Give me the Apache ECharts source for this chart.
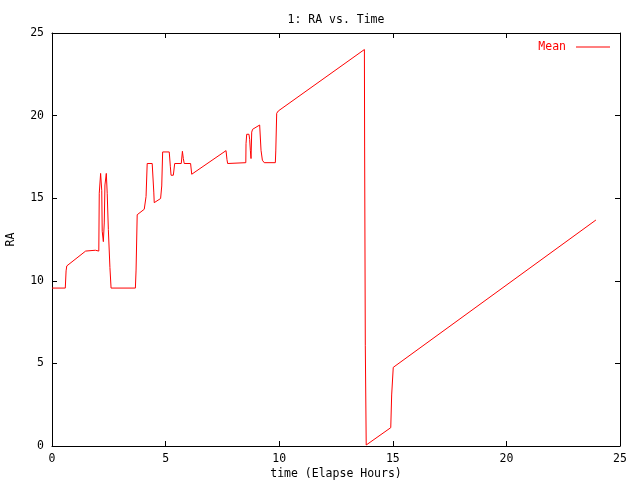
<!DOCTYPE html>
<html>
<head>
<meta charset="utf-8">
<script src="https://cdn.jsdelivr.net/npm/echarts@6/dist/echarts.min.js"></script>
<style>html,body{margin:0;padding:0;background:#fff;}#c{width:640px;height:480px;}</style>
</head>
<body>
<div id="c"></div>
<script>
var titleText = "1: RA vs. Time";
var xName = "time (Elapse Hours)";
var yName = "RA";
var seriesName = "Mean";
var timeHours = [0, 0.585, 0.62, 0.65, 0.72, 1.48, 1.91, 1.97, 2.06, 2.08, 2.14, 2.19, 2.21, 2.26, 2.30, 2.33, 2.39, 2.43, 2.48, 2.55, 2.60,
  3.67, 3.70, 3.75, 4.06, 4.14, 4.19, 4.41, 4.48, 4.50, 4.78, 4.83, 4.87, 5.16, 5.21, 5.24, 5.34, 5.40, 5.69, 5.74, 5.78, 5.82,
  6.10, 6.15, 6.19, 7.66, 7.70, 7.73, 8.53, 8.54, 8.57, 8.67, 8.70, 8.73, 8.76, 8.79, 8.83, 9.14, 9.20, 9.26, 9.34, 9.83, 9.85, 9.89, 9.96,
  13.75, 13.76, 13.79, 13.83, 13.85, 14.91, 14.95, 15.02, 23.94];
var raMean = [9.56, 9.56, 10.6, 10.9, 11.0, 11.8, 11.85, 11.95, 11.8, 15.3, 16.5, 15.45, 13.0, 12.37, 13.5, 15.8, 16.5, 15.3, 13.1, 10.8, 9.56,
  9.56, 10.65, 14.0, 14.33, 15.1, 17.1, 17.1, 15.37, 14.73, 14.98, 15.74, 17.8, 17.8, 16.9, 16.39, 16.39, 17.1, 17.1, 17.84, 17.4, 17.1,
  17.1, 16.45, 16.39, 17.88, 17.35, 17.1, 17.15, 18.3, 18.87, 18.87, 18.56, 17.9, 17.4, 19.0, 19.17, 19.43, 17.9, 17.3, 17.15, 17.15, 17.86, 20.14, 20.28,
  24.0, 18.1, 6.1, 0.06, 0.05, 1.11, 3.09, 4.76, 13.68];
var xTicks = [0, 5, 10, 15, 20, 25];
var yTicks = [0, 5, 10, 15, 20, 25];

var pts = timeHours.map(function (t, i) { return [t, raMean[i]]; });
var font = "DejaVu Sans Mono";
var fs = 11.5;
function axisCommon(extra) {
  var a = {
    type: 'value', min: xTicks[0], max: xTicks[xTicks.length - 1], interval: 5,
    axisLine: { show: true, onZero: false, lineStyle: { color: '#000', width: 1 } },
    axisTick: { show: true, inside: true, length: 5, lineStyle: { color: '#000' } },
    splitLine: { show: false },
    axisLabel: { show: false }
  };
  for (var k in extra) a[k] = extra[k];
  return a;
}
var chart = echarts.init(document.getElementById('c'), null, { renderer: 'canvas' });
chart.setOption({
  animation: false,
  backgroundColor: '#fff',
  title: { text: titleText, left: 331, textAlign: 'center', top: 9,
    textStyle: { fontFamily: font, fontSize: fs, fontWeight: 'normal', color: '#000' } },
  legend: { data: [seriesName], right: 25, top: 36, align: 'right', icon: 'rect', itemWidth: 34, itemHeight: 1.2, itemGap: 0,
    textStyle: { fontFamily: font, fontSize: fs, color: '#ff0000', padding: [0, 5, 0, 0] } },
  grid: { left: 52, right: 20, top: 33, bottom: 34, containLabel: false, outerBoundsMode: 'none' },
  xAxis: [
    axisCommon({ position: 'bottom', name: xName, nameLocation: 'middle', nameGap: 22, nameMoveOverlap: false,
      nameTextStyle: { fontFamily: font, fontSize: fs, color: '#000' },
      axisLabel: { show: true, margin: 7, fontFamily: font, fontSize: fs, color: '#000' } }),
    axisCommon({ position: 'top' })
  ],
  yAxis: [
    axisCommon({ position: 'left', min: yTicks[0], max: yTicks[yTicks.length - 1], name: yName, nameLocation: 'middle', nameGap: 35, nameRotate: 90, nameMoveOverlap: false,
      nameTextStyle: { fontFamily: font, fontSize: fs, color: '#000' },
      axisLabel: { show: true, margin: 8, fontFamily: font, fontSize: fs, color: '#000' } }),
    axisCommon({ position: 'right', min: yTicks[0], max: yTicks[yTicks.length - 1] })
  ],
  series: [{
    name: seriesName, type: 'line', data: pts, xAxisIndex: 0, yAxisIndex: 0,
    showSymbol: false, symbol: 'none', lineStyle: { color: '#ff0000', width: 1 }, itemStyle: { color: '#ff0000' }
  }]
});
</script>
</body>
</html>
